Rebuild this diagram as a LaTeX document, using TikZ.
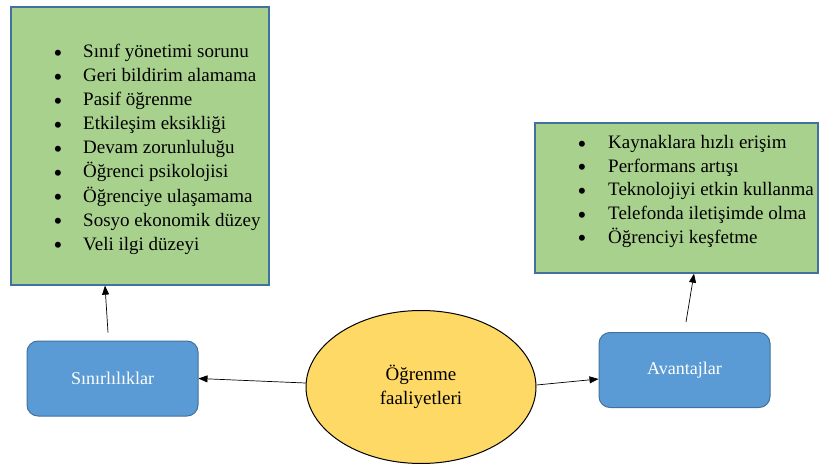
\documentclass[tikz,border=0pt]{standalone}
\usepackage{fontspec}
\setmainfont{Liberation Serif}
\usetikzlibrary{arrows.meta,shapes.geometric}

\definecolor{listgreen}{HTML}{A9D18E}
\definecolor{boxblue}{HTML}{5B9BD5}
\definecolor{edgeblue}{HTML}{41719C}
\definecolor{ovalyellow}{HTML}{FFD966}

\begin{document}
\begin{tikzpicture}[x=1pt, y=-1pt,
        listbox/.style={draw=edgeblue, line width=1.3pt, fill=listgreen, inner sep=0pt},
        headbox/.style={draw=edgeblue, line width=1pt, fill=boxblue, rounded corners=11pt,
            minimum width=171pt, minimum height=75pt, text=white, font=\fontsize{18}{22}\selectfont},
        item/.style={inner sep=0pt, anchor=base west, font=\fontsize{19}{24}\selectfont},
        bul/.style={inner sep=0pt, anchor=base, yshift=-3.5pt, font=\fontsize{25}{24}\selectfont},
        arr/.style={-{Triangle[length=9pt,width=7pt]}, line width=0.7pt}]
        \useasboundingbox (0,0) rectangle (824,465);
        % list boxes
        \node[listbox, minimum width=258pt, minimum height=278pt] (limbox) at (140,146) {};
        \node[listbox, minimum width=283pt, minimum height=150pt] (advbox) at (676.5,198) {};
        \foreach \txt [count=\i] in {Sınıf yönetimi sorunu, Geri bildirim alamama, Pasif öğrenme,
            Etkileşim eksikliği, Devam zorunluluğu, Öğrenci psikolojisi, Öğrenciye ulaşamama,
            Sosyo ekonomik düzey, Veli ilgi düzeyi} {
            \node[bul] (limdot\i) at (58,{58+24*(\i-1)}) {\textbullet};
            \node[item] (limitem\i) at (83,{58+24*(\i-1)}) {\txt};
        }
        \foreach \txt [count=\i] in {Kaynaklara hızlı erişim, Performans artışı,
            Teknolojiyi etkin kullanma, Telefonda iletişimde olma, Öğrenciyi keşfetme} {
            \node[bul] (advdot\i) at (582,{149+23.5*(\i-1)}) {\textbullet};
            \node[item] (advitem\i) at (608,{149+23.5*(\i-1)}) {\txt};
        }
        % center and sides
        \node[ellipse, draw, line width=1pt, fill=ovalyellow, minimum width=230pt, minimum height=153pt,
            align=center, font=\fontsize{19}{24}\selectfont] (act) at (421,387) {Öğrenme\\faaliyetleri};
        \node[headbox] (sinir) at (112.5,378.5) {Sınırlılıklar};
        \node[headbox] (avan) at (684.5,370) {Avantajlar};
        % arrows
        \draw[arr] ([yshift=4pt]act.west) -- (sinir.east);
        \draw[arr] ([yshift=2pt]act.east) -- ([yshift=-9pt]avan.west);
        \draw[arr] ([xshift=-4.5pt,yshift=8pt]sinir.north) -- ([xshift=-35pt]limbox.south);
        \draw[arr] ([xshift=1.5pt,yshift=10pt]avan.north) -- ([xshift=17.5pt]advbox.south);
    \end{tikzpicture}
\end{document}
